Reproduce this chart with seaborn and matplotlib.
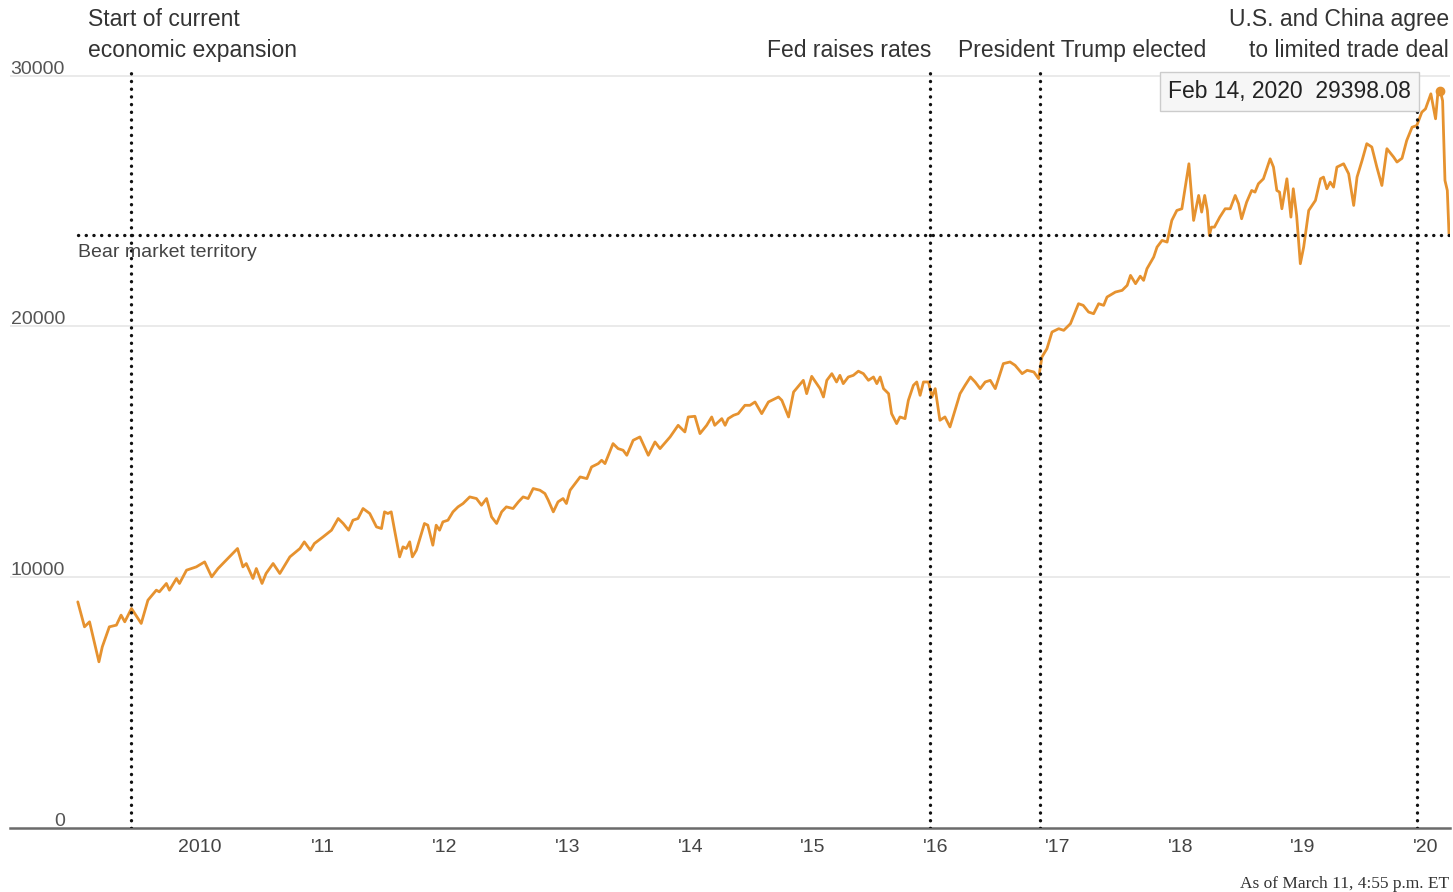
import pandas as pd
import matplotlib
matplotlib.use('Agg')
import matplotlib.pyplot as plt
import matplotlib.transforms as mtransforms
import seaborn as sns

# Dow Jones Industrial Average
dates = [
    '2009-01-02', '2009-01-22', '2009-02-06', '2009-02-20', '2009-03-06', '2009-03-16',
    '2009-04-06', '2009-04-27', '2009-05-11', '2009-05-22', '2009-06-11', '2009-07-10',
    '2009-07-30', '2009-08-24', '2009-09-02', '2009-09-23', '2009-10-02', '2009-10-23',
    '2009-11-01', '2009-11-22', '2009-12-21',
    '2010-01-15', '2010-02-05', '2010-02-24', '2010-03-20', '2010-04-23', '2010-05-09',
    '2010-05-19', '2010-06-08', '2010-06-18', '2010-07-05', '2010-07-17', '2010-08-07',
    '2010-08-27', '2010-09-26', '2010-10-26', '2010-11-08', '2010-11-26', '2010-12-08',
    '2011-01-03', '2011-01-28', '2011-02-17', '2011-03-04', '2011-03-20', '2011-04-02',
    '2011-04-17', '2011-05-02', '2011-05-22', '2011-06-11', '2011-06-26', '2011-07-05',
    '2011-07-15', '2011-07-25', '2011-08-04', '2011-08-19', '2011-08-29', '2011-09-08',
    '2011-09-18', '2011-09-26', '2011-10-08', '2011-10-23', '2011-11-01', '2011-11-11',
    '2011-11-26', '2011-12-06', '2011-12-16', '2011-12-26',
    '2012-01-10', '2012-01-25', '2012-02-09', '2012-02-24', '2012-03-15', '2012-04-04',
    '2012-04-19', '2012-05-04', '2012-05-19', '2012-06-03', '2012-06-18', '2012-07-02',
    '2012-07-22', '2012-08-07', '2012-08-21', '2012-09-05', '2012-09-20', '2012-10-10',
    '2012-10-25', '2012-11-04', '2012-11-19', '2012-12-03', '2012-12-18', '2012-12-28',
    '2013-01-08', '2013-02-07', '2013-02-27', '2013-03-13', '2013-04-02', '2013-04-12',
    '2013-04-22', '2013-05-16', '2013-05-31', '2013-06-15', '2013-06-26', '2013-07-15',
    '2013-08-04', '2013-08-29', '2013-09-18', '2013-10-03', '2013-11-02', '2013-11-26',
    '2013-12-16', '2013-12-26',
    '2014-01-15', '2014-01-30', '2014-02-19', '2014-03-06', '2014-03-15', '2014-04-05',
    '2014-04-15', '2014-04-24', '2014-05-10', '2014-05-24', '2014-06-13', '2014-06-28',
    '2014-07-13', '2014-08-02', '2014-08-22', '2014-09-21', '2014-10-01', '2014-10-21',
    '2014-11-05', '2014-12-04', '2014-12-14', '2014-12-29',
    '2015-01-13', '2015-01-23', '2015-02-02', '2015-02-12', '2015-02-27', '2015-03-13',
    '2015-03-23', '2015-04-02', '2015-04-17', '2015-05-02', '2015-05-17', '2015-06-01',
    '2015-06-16', '2015-07-01', '2015-07-11', '2015-07-21', '2015-07-31', '2015-08-15',
    '2015-08-24', '2015-09-08', '2015-09-18', '2015-10-03', '2015-10-13', '2015-10-28',
    '2015-11-07', '2015-11-17', '2015-11-27', '2015-12-12', '2015-12-22',
    '2016-01-01', '2016-01-15', '2016-01-30', '2016-02-14', '2016-03-15', '2016-03-30',
    '2016-04-15', '2016-04-29', '2016-05-14', '2016-05-29', '2016-06-13', '2016-06-28',
    '2016-07-22', '2016-08-11', '2016-08-26', '2016-09-16', '2016-10-01', '2016-10-21',
    '2016-11-04', '2016-11-14', '2016-11-29', '2016-12-14',
    '2017-01-03', '2017-01-18', '2017-02-07', '2017-03-03', '2017-03-17', '2017-04-02',
    '2017-04-17', '2017-05-02', '2017-05-17', '2017-05-27', '2017-06-21', '2017-07-11',
    '2017-07-26', '2017-08-05', '2017-08-20', '2017-09-03', '2017-09-13', '2017-09-23',
    '2017-10-13', '2017-10-23', '2017-11-07', '2017-11-22', '2017-12-06', '2017-12-21',
    '2018-01-05', '2018-01-26', '2018-02-09', '2018-02-24', '2018-03-05', '2018-03-14',
    '2018-03-22', '2018-03-28', '2018-04-03', '2018-04-12', '2018-04-28', '2018-05-14',
    '2018-05-29', '2018-06-13', '2018-06-23', '2018-07-02', '2018-07-17', '2018-08-01',
    '2018-08-11', '2018-08-21', '2018-09-05', '2018-09-25', '2018-10-05', '2018-10-15',
    '2018-10-23', '2018-10-30', '2018-11-14', '2018-11-26', '2018-12-03', '2018-12-13',
    '2018-12-24',
    '2019-01-03', '2019-01-18', '2019-02-07', '2019-02-22', '2019-03-03', '2019-03-13',
    '2019-03-23', '2019-04-02', '2019-04-12', '2019-05-02', '2019-05-17', '2019-06-01',
    '2019-06-11', '2019-06-26', '2019-07-10', '2019-07-25', '2019-08-09', '2019-08-24',
    '2019-09-08', '2019-09-28', '2019-10-08', '2019-10-23', '2019-11-06', '2019-11-22',
    '2019-12-06', '2019-12-21',
    '2020-01-01', '2020-01-17', '2020-01-31', '2020-02-07', '2020-02-14', '2020-02-21',
    '2020-02-28', '2020-03-06', '2020-03-11',
]
dow_close = [
    9016, 8020, 8220, 7422, 6626, 7223,
    8020, 8088, 8486, 8220, 8752, 8155,
    9083, 9482, 9415, 9749, 9482, 9948,
    9749, 10279, 10410,
    10609, 10013, 10346, 10677, 11143, 10410,
    10543, 9948, 10346, 9749, 10147, 10545,
    10147, 10809, 11143, 11408, 11076, 11342,
    11607, 11873, 12339, 12140, 11873, 12271,
    12339, 12737, 12538, 12004, 11940, 12604,
    12538, 12604, 11873, 10809, 11208, 11143,
    11408, 10809, 11076, 11740, 12140, 12073,
    11275, 12073, 11873, 12205,
    12271, 12604, 12803, 12936, 13200, 13135,
    12869, 13135, 12404, 12140, 12604, 12803,
    12737, 13002, 13200, 13135, 13534, 13467,
    13334, 13068, 12604, 13002, 13135, 12936,
    13467, 13997, 13930, 14395, 14528, 14661,
    14528, 15325, 15126, 15060, 14860, 15458,
    15591, 14860, 15392, 15126, 15591, 16055,
    15790, 16387,
    16414, 15724, 16055, 16387, 16055, 16321,
    16055, 16321, 16454, 16520, 16852, 16852,
    16985, 16520, 16985, 17184, 17051, 16387,
    17383, 17848, 17317, 18007,
    17716, 17516, 17184, 17848, 18114, 17782,
    18047, 17716, 17981, 18047, 18213, 18114,
    17848, 17981, 17716, 17981, 17516, 17317,
    16520, 16122, 16388, 16321, 17051, 17649,
    17782, 17250, 17782, 17782, 17184,
    17516, 16255, 16388, 15989, 17317, 17649,
    17981, 17782, 17516, 17782, 17848, 17516,
    18514, 18580, 18447, 18114, 18247, 18180,
    17915, 18778, 19111, 19774,
    19907, 19841, 20106, 20903, 20837, 20571,
    20504, 20903, 20837, 21169, 21368, 21435,
    21634, 22032, 21701, 22000, 21833, 22298,
    22762, 23161, 23426, 23360, 24223, 24621,
    24688, 26482, 24223, 25219, 24555, 25219,
    24621, 23625, 23956, 23956, 24355, 24688,
    24688, 25219, 24888, 24290, 24952, 25418,
    25352, 25684, 25883, 26681, 26349, 25418,
    25352, 24688, 25883, 24355, 25485, 24422,
    22497,
    23161, 24621, 25020, 25883, 25950, 25485,
    25750, 25550, 26349, 26482, 26083, 24821,
    25950, 26615, 27282, 27150, 26349, 25617,
    27083, 26748, 26550, 26700, 27410, 27940,
    28006, 28538,
    28671, 29270, 28275, 29335, 29398.08, 28992,
    25817, 25418, 23690,
]

bear_level = 23641
event_dates = ['2009-06-09', '2015-12-16', '2016-11-08', '2019-12-06']
tick_dates = ['2010-01-01', '2011-01-01', '2012-01-01', '2013-01-01', '2014-01-01', '2015-01-01',
              '2016-01-01', '2017-01-01', '2018-01-01', '2019-01-01', '2020-01-01']
tick_labels = ['2010', "'11", "'12", "'13", "'14", "'15", "'16", "'17", "'18", "'19", "'20"]
y_values = [0, 10000, 20000, 30000]
y_labels = ['0', '10000', '20000', '30000']
tooltip_date = '2020-02-14'
tooltip_value = 29398.08

df = pd.DataFrame({'date': pd.to_datetime(dates), 'close': dow_close})

sns.set_style('white')
plt.rcParams['font.family'] = ['Liberation Sans', 'DejaVu Sans']

W, H = 1453, 892
fig = plt.figure(figsize=(W / 100, H / 100), dpi=100)
ax = fig.add_axes([10 / W, 1 - 828 / H, 1440 / W, 760 / H])

line_color = '#e6922f'
sns.lineplot(data=df, x='date', y='close', ax=ax, color=line_color, linewidth=2.0, zorder=2)

ax.set_xlim(pd.Timestamp('2008-06-14'), pd.Timestamp('2020-03-14'))
ax.set_ylim(0, 30300)
ax.set_xlabel('')
ax.set_ylabel('')

# spines / grid
for side in ['top', 'right', 'left']:
    ax.spines[side].set_visible(False)
ax.spines['bottom'].set_color('#6b6b6b')
ax.spines['bottom'].set_linewidth(1.8)
for v in y_values[1:]:
    ax.axhline(v, color='#e6e6e6', lw=1.2, zorder=0)

# y labels sit on top of the gridlines
ax.set_yticks([])
trans = mtransforms.blended_transform_factory(ax.transAxes, ax.transData)
for v, lab in zip(y_values, y_labels):
    ax.annotate(lab, xy=(0.0382, v), xycoords=trans, xytext=(0, 2), textcoords='offset pixels',
                ha='right', va='baseline', fontsize=14, color='#555555')

ax.set_xticks(pd.to_datetime(tick_dates))
ax.set_xticklabels(tick_labels)
ax.tick_params(axis='x', length=5, width=1, color='#6b6b6b', labelsize=14,
               labelcolor='#444444', pad=3, direction='out')

# dotted reference lines
dot_style = dict(color='#111111', lw=2.4, linestyle=(0, (0.05, 2.26)), dash_capstyle='round', zorder=3)
for d in event_dates:
    ax.axvline(pd.Timestamp(d), **dot_style)
ax.plot([df['date'].iloc[0], pd.Timestamp('2020-03-14')], [bear_level, bear_level], **dot_style)
ax.annotate('Bear market territory', xy=(df['date'].iloc[0], bear_level), xytext=(0, -9),
            textcoords='offset pixels', ha='left', va='top', fontsize=14, color='#444444')

# hovered point + tooltip
tip_x = pd.Timestamp(tooltip_date)
ax.plot(tip_x, tooltip_value, 'o', color=line_color, ms=6, zorder=4)
ax.annotate(f'Feb 14, 2020  {tooltip_value:.2f}', xy=(tip_x, tooltip_value), xytext=(-151, -1),
            textcoords='offset pixels', ha='center', va='center', fontsize=16.5, color='#222222',
            bbox=dict(boxstyle='square,pad=0.36', fc='#f6f6f6', ec='#cccccc', lw=1), zorder=5)

# event labels above the plot
ann = dict(fontsize=16.5, color='#333333', va='baseline')
fig.text(88 / W, 1 - 26 / H, 'Start of current', ha='left', **ann)
fig.text(88 / W, 1 - 57 / H, 'economic expansion', ha='left', **ann)
fig.text(931 / W, 1 - 57 / H, 'Fed raises rates', ha='right', **ann)
fig.text(958 / W, 1 - 57 / H, 'President Trump elected', ha='left', **ann)
fig.text(1449 / W, 1 - 26 / H, 'U.S. and China agree', ha='right', **ann)
fig.text(1449 / W, 1 - 57 / H, 'to limited trade deal', ha='right', **ann)

fig.text(1449 / W, 1 - 888 / H, 'As of March 11, 4:55 p.m. ET', ha='right', va='baseline',
         family='Liberation Serif', fontsize=12.5, color='#333333')

fig.savefig('out.png', dpi=100)
